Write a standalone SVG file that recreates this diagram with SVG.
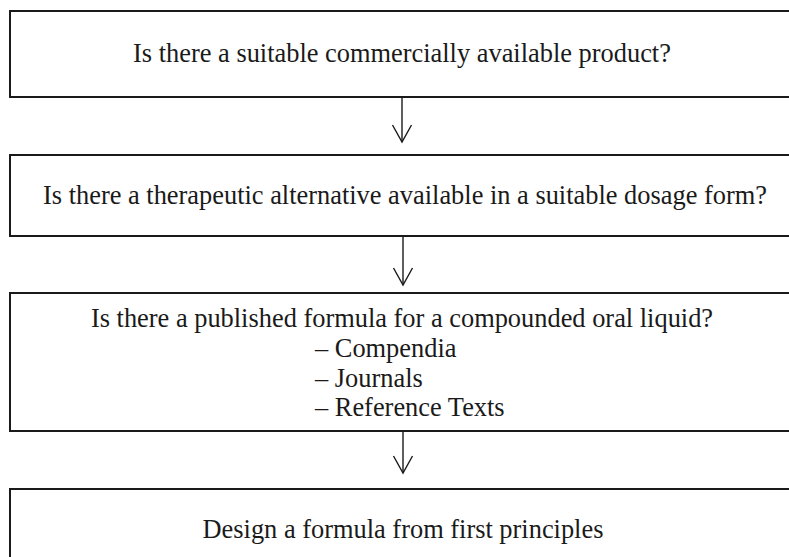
<svg xmlns="http://www.w3.org/2000/svg" width="789" height="557" viewBox="0 0 789 557">
  <style>
    .box { fill: #ffffff; stroke: #1a1a1a; stroke-width: 2; }
    .lbl { font-family: "Liberation Serif", "Times New Roman", serif; font-size: 26.4px; fill: #1a1a1a; }
    .mid { text-anchor: middle; }
    .conn { stroke: #1a1a1a; stroke-width: 1.4; fill: none; }
  </style>
  <defs>
    <marker id="vhead" markerUnits="userSpaceOnUse" markerWidth="24" markerHeight="26" viewBox="-20 -13 24 26" refX="0" refY="0" orient="auto">
      <path d="M-17,-9.5 L0,0 L-17,9.5" fill="none" stroke="#1a1a1a" stroke-width="1.4"/>
    </marker>
  </defs>
  <rect width="789" height="557" fill="#ffffff"/>

  <g id="node1">
    <rect class="box" x="10" y="11" width="800" height="86"/>
    <text class="lbl mid" x="402" y="61.5">Is there a suitable commercially available product?</text>
  </g>

  <g id="node2">
    <rect class="box" x="10" y="155" width="800" height="81"/>
    <text class="lbl mid" x="405" y="204">Is there a therapeutic alternative available in a suitable dosage form?</text>
  </g>

  <g id="node3">
    <rect class="box" x="10" y="293" width="800" height="138"/>
    <text class="lbl mid" x="402" y="327">Is there a published formula for a compounded oral liquid?</text>
    <text class="lbl" x="315" y="357">– Compendia</text>
    <text class="lbl" x="315" y="387">– Journals</text>
    <text class="lbl" x="315" y="416">– Reference Texts</text>
  </g>

  <g id="node4">
    <rect class="box" x="10" y="489" width="800" height="100"/>
    <text class="lbl mid" x="403" y="538">Design a formula from first principles</text>
  </g>

  <g id="connectors">
    <line class="conn" x1="402" y1="97" x2="402" y2="142" marker-end="url(#vhead)"/>
    <line class="conn" x1="403" y1="236" x2="403" y2="285" marker-end="url(#vhead)"/>
    <line class="conn" x1="403" y1="431" x2="403" y2="473" marker-end="url(#vhead)"/>
  </g>
</svg>
